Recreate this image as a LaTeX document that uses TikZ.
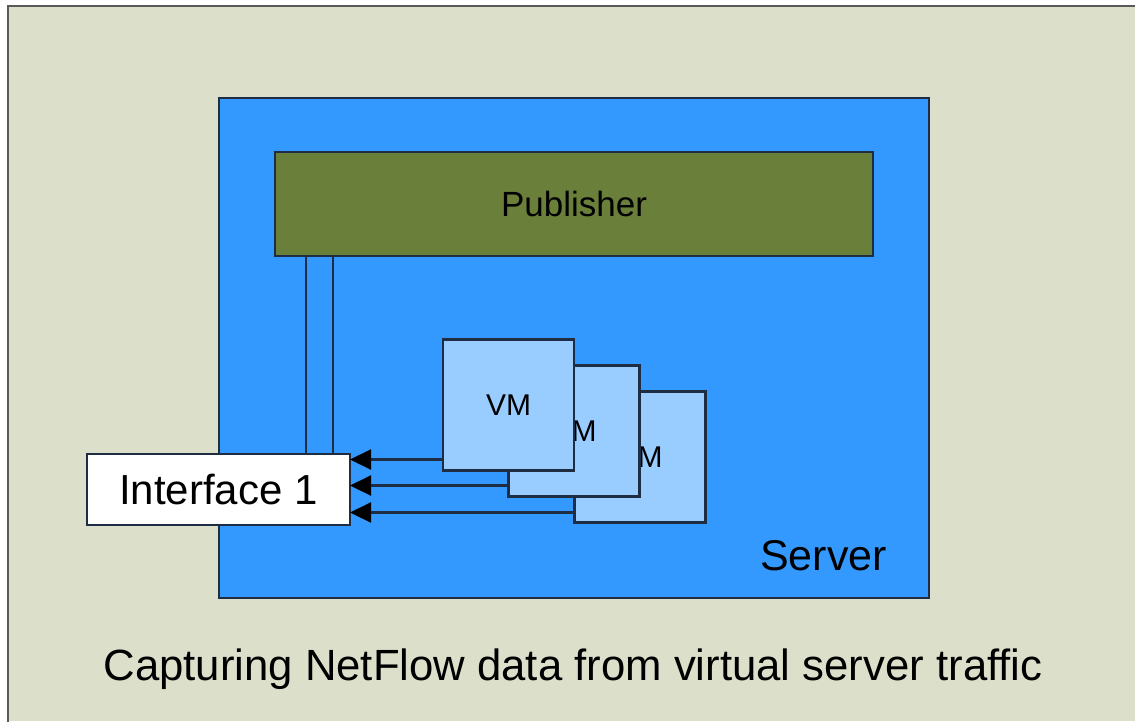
\documentclass[tikz,border=0pt]{standalone}
\usepackage{fontspec}
\setmainfont{Liberation Sans}
\usetikzlibrary{arrows.meta}
\definecolor{panelbg}{RGB}{220,223,201}
\definecolor{serverblue}{RGB}{51,153,255}
\definecolor{pubolive}{RGB}{106,127,58}
\definecolor{vmblue}{RGB}{153,204,255}
\definecolor{edge}{RGB}{30,45,65}
\begin{document}
\begin{tikzpicture}[x=1pt,y=-1pt,
  box/.style={draw=edge,line width=2.2pt,inner sep=0pt,outer sep=0pt},
  vmbox/.style={box,fill=vmblue,minimum width=131pt,minimum height=131pt,font=\fontsize{30}{34}\selectfont},
  wire/.style={draw=edge,line width=2.2pt},
  flow/.style={wire,-{Triangle[length=21pt,width=20pt,black]}}]
\useasboundingbox (0,0) rectangle (1135,721);
% background panel
\fill[panelbg] (8,6) rectangle (1135,721);
\draw[line width=2pt,draw=black!65] (8,722) -- (8,6) -- (1136,6);
% server and publisher
\node[box,fill=serverblue,minimum width=710pt,minimum height=500pt] (server) at (574,348) {};
\node[box,fill=pubolive,minimum width=598pt,minimum height=104pt,font=\fontsize{35}{40}\selectfont] (pub) at (574,204) {\raisebox{-2pt}{Publisher}};
\node[box,fill=white,minimum width=263pt,minimum height=71pt,font=\fontsize{42}{48}\selectfont] (iface) at (218.5,489.5) {Interface 1};
% virtual machines, back to front
\node[vmbox] (vm3) at (640,457) {VM};
\node[vmbox] (vm2) at (574,431) {VM};
\node[vmbox] (vm1) at (508.5,405) {VM};
% publisher links
\draw[wire] ([xshift=31pt]pub.south west) -- ([xshift=31pt]pub.south west |- iface.north);
\draw[wire] ([xshift=58pt]pub.south west) -- ([xshift=58pt]pub.south west |- iface.north);
% traffic to the interface
\draw[flow] ([yshift=11pt]vm1.south west) -- ([yshift=11pt]vm1.south west -| iface.east);
\draw[flow] ([yshift=11pt]vm2.south west) -- ([yshift=11pt]vm2.south west -| iface.east);
\draw[flow] ([yshift=10pt]vm3.south west) -- ([yshift=10pt]vm3.south west -| iface.east);
% labels
\node[anchor=base,font=\fontsize{43}{48}\selectfont] (srvlabel) at (823.5,570) {Server};
\node[anchor=base,font=\fontsize{43.7}{48}\selectfont] (caption) at (573,680) {Capturing NetFlow data from virtual server traffic};
\end{tikzpicture}
\end{document}
